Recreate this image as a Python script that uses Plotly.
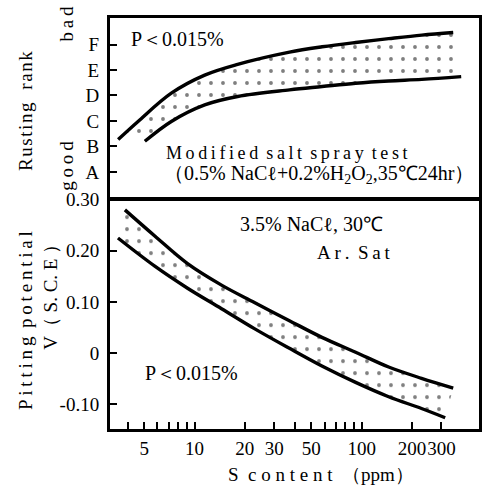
import plotly.graph_objects as go

# Rusting rank band (upper panel), rank A=1 ... F=6
rust_hi_s = [3.49, 4.59, 7.26, 11.5, 18.1, 37, 58, 92, 145, 229, 353]
rust_hi_r = [2.27, 2.98, 4.09, 4.80, 5.22, 5.70, 5.91, 6.08, 6.23, 6.37, 6.47]
rust_lo_s = [5.04, 7.26, 11.5, 18.1, 37, 58, 92, 145, 229, 394]
rust_lo_r = [2.20, 2.98, 3.63, 3.96, 4.22, 4.35, 4.48, 4.57, 4.63, 4.74]
rank_vals = [1, 2, 3, 4, 5, 6]
rank_text = ['A', 'B', 'C', 'D', 'E', 'F']

# Pitting potential band (lower panel), V vs S.C.E
pit_hi_s = [3.83, 5.78, 9.08, 14.5, 22.8, 36.7, 57.8, 92, 145, 228, 353]
pit_hi_v = [0.280, 0.229, 0.175, 0.133, 0.099, 0.064, 0.031, 0.002, -0.027, -0.049, -0.068]
pit_lo_s = [3.48, 5.78, 9.08, 14.5, 22.8, 36.7, 57.8, 92, 145, 228, 316]
pit_lo_v = [0.225, 0.170, 0.127, 0.087, 0.048, 0.010, -0.025, -0.057, -0.085, -0.108, -0.126]
pot_vals = [-0.1, 0, 0.1, 0.2, 0.3]
pot_text = ['-0.10', '0', '0.10', '0.20', '0.30']

s_major = [5, 10, 20, 30, 50, 100, 200, 300]
s_labels = ['5', '10', '20', '30', '50', '100', '200', '300']
s_minor = [4, 6, 7, 8, 9, 40, 60, 70, 80, 90]

FONT = 'Liberation Serif'
dots = dict(shape='.', fgcolor='black', bgcolor='rgba(0,0,0,0)', size=12, solidity=0.08)
line = dict(color='black', width=3.4, shape='spline')

fig = go.Figure()
fig.add_trace(go.Scatter(x=rust_lo_s, y=rust_lo_r, mode='lines', line=line,
                         xaxis='x2', yaxis='y2'))
fig.add_trace(go.Scatter(x=rust_hi_s, y=rust_hi_r, mode='lines', line=line,
                         fill='tonexty', fillcolor='rgba(0,0,0,0)', fillpattern=dots,
                         xaxis='x2', yaxis='y2'))
fig.add_trace(go.Scatter(x=pit_lo_s, y=pit_lo_v, mode='lines', line=line))
fig.add_trace(go.Scatter(x=pit_hi_s, y=pit_hi_v, mode='lines', line=line,
                         fill='tonexty', fillcolor='rgba(0,0,0,0)', fillpattern=dots))

xr = [0.488, 2.708]
ax_common = dict(showline=True, linecolor='black', linewidth=2, mirror=True,
                 showgrid=False, zeroline=False)
tick_style = dict(ticks='inside', ticklen=8, tickwidth=1.5, tickcolor='black')
fig.update_layout(
    width=489, height=485, showlegend=False,
    plot_bgcolor='white', paper_bgcolor='white',
    margin=dict(l=109, r=7, t=15, b=55),
    font=dict(family=FONT, size=19, color='black'),
    xaxis=dict(type='log', range=xr, tickvals=s_major, ticktext=s_labels, tickangle=0,
               minor=dict(tickvals=s_minor, ticks='inside', ticklen=8, tickwidth=1.5,
                          tickcolor='black', showgrid=False),
               anchor='y', **tick_style, **ax_common),
    xaxis2=dict(type='log', range=xr, matches='x', showticklabels=False, ticks='',
                anchor='y2', **ax_common),
    yaxis=dict(domain=[0, 0.559], range=[-0.150, 0.301], tickvals=pot_vals, ticktext=pot_text,
               ticklabelstandoff=4, **tick_style, **ax_common),
    yaxis2=dict(domain=[0.559, 1], range=[-0.07, 7.08], tickvals=rank_vals, ticktext=rank_text,
                ticklabelstandoff=4, anchor='x2', **tick_style, **ax_common),
)
# outer frame of the two stacked panels
fig.add_shape(type='rect', xref='paper', yref='paper', x0=0, y0=0, x1=1, y1=1,
              line=dict(color='black', width=2))

T = '\u2009'  # thin space for the letter-spaced captions
H = '\u200a'  # hair space
def spaced(s, sp=T):
    return sp.join(s).replace(sp + ' ' + sp, ' ' + sp)

notes = [
    dict(text='P＜0.015%', x=0.185, y=0.947, size=20),
    dict(text=spaced('Modified salt spray test'), x=0.480, y=0.670, size=18),
    dict(text='（0.5% NaCℓ+0.2%H<sub>2</sub>O<sub>2</sub>,35℃24hr）', x=0.566, y=0.619, size=20),
    dict(text='3.5% NaCℓ, 30℃', x=0.547, y=0.499, size=20),
    dict(text=spaced('Ar. Sat'), x=0.660, y=0.429),
    dict(text='P＜0.015%', x=0.223, y=0.137, size=20),
    dict(text=spaced('S content', ' ') + '  （ppm）', x=0.571, y=-0.108),
    dict(text=spaced('Rusting  rank', H), x=-0.225, y=0.771, textangle=-90),
    dict(text=spaced('bad'), x=-0.115, y=0.985, textangle=-90),
    dict(text=spaced('good'), x=-0.113, y=0.640, textangle=-90),
    dict(text=spaced('Pitting potential'), x=-0.225, y=0.265, textangle=-90),
    dict(text='V（ S. C. E ）', x=-0.158, y=0.333, textangle=-90),
]
for n in notes:
    size = n.pop('size', 19)
    fig.add_annotation(xref='paper', yref='paper', showarrow=False,
                       xanchor='center', yanchor='middle',
                       font=dict(family=FONT, size=size, color='black'), **n)

# drop the browser's default page margin so the figure sits at the window origin
fig.write_html('out.html', config={'displayModeBar': False},
               post_script="document.body.style.margin='0';"
                           "document.body.style.overflow='hidden';")
